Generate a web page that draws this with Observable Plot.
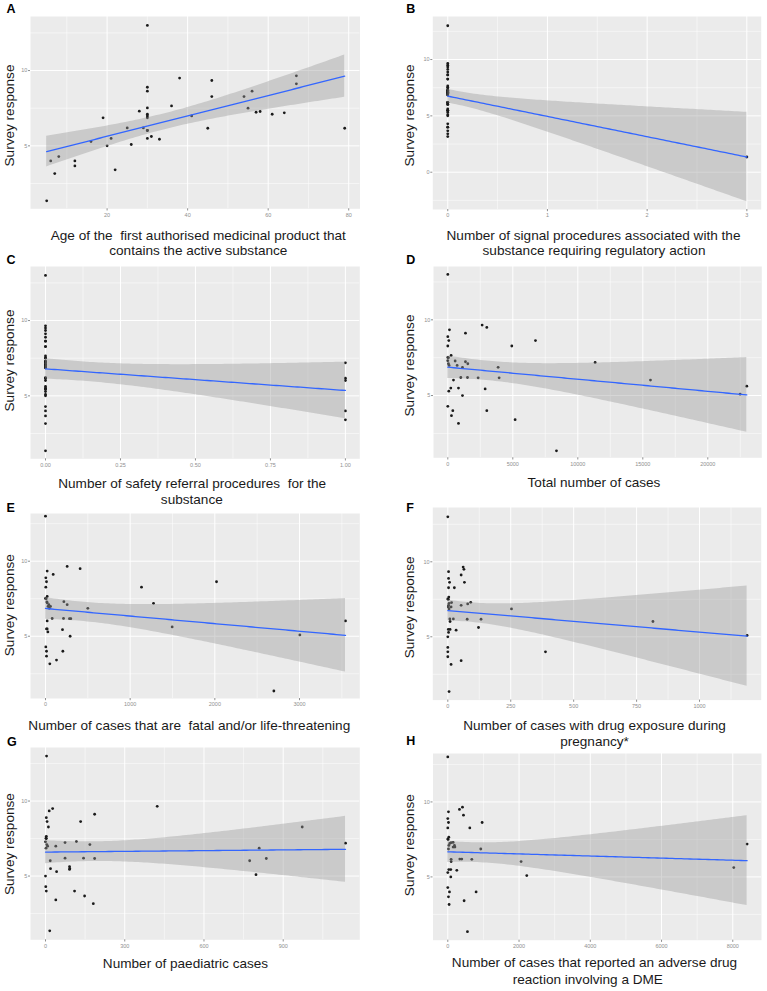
<!DOCTYPE html>
<html>
<head>
<meta charset="utf-8">
<script src="https://cdn.jsdelivr.net/npm/d3@7"></script>
<script src="https://cdn.jsdelivr.net/npm/@observablehq/plot@0.6"></script>
<style>
  html, body { margin: 0; padding: 0; background: #fff; }
  #fig { position: relative; width: 767px; height: 991px; overflow: hidden; background: #fff; }
  #fig svg { position: absolute; overflow: visible; }
</style>
</head>
<body>
<div id="fig"></div>
<script>
// Survey response per substance (same order in every predictor array below)
const survey = [13.0, 9.65, 9.5, 9.34, 9.12, 8.89, 8.63, 8.63, 8.27, 8.27, 7.65, 7.52, 7.50, 7.30, 7.28,
  7.23, 7.19, 7.10, 7.10, 6.99, 6.99, 6.86, 6.86, 6.19, 6.19, 6.17, 6.17, 6.02, 6.02, 5.62, 5.49, 5.49,
  5.44, 5.29, 5.09, 5.0, 4.29, 4.0, 4.0, 3.67, 3.41, 3.16, 1.35];

// Predictors
const ageFirstAuthorised = [30, 67, 38, 46, 67, 30, 30, 56, 46, 54, 36, 30, 55, 28, 58, 57, 64, 30, 61, 30,
  41, 30, 19, 25, 29, 45, 79, 30, 30, 31, 30, 21, 33, 16, 26, 20, 8, 6, 12, 12, 22, 7, 5];
const signalProcedures = [0, 0, 0, 0, 0, 0, 0, 0, 0, 0, 0, 0, 0, 0, 0, 0, 0, 0, 0, 0, 0, 0, 0, 0, 0, 0,
  0, 0, 0, 0, 0, 0, 0, 0, 0, 0, 0, 0, 0, 0, 0, 0, 3];
const safetyReferrals = [0, 0, 0, 0, 0, 0, 0, 0, 0, 0, 0, 0, 0, 0, 0, 0, 1, 0, 0, 0, 0, 0, 0, 0, 0, 0,
  1, 0, 1, 0, 0, 0, 0, 0, 0, 0, 0, 0, 1, 0, 1, 0, 0];
const totalCases = [0, 2641, 3000, 128, 1359, 0, 77, 6744, 0, 4923, 256, 0, 50, 0, 564, 1359, 11333, 1538,
  50, 718, 100, 1128, 3872, 1000, 1513, 2333, 3949, 436, 15590, 23000, 231, 821, 2872, 77, 22487, 1128, 0,
  385, 3000, 282, 5179, 821, 8359];
const fatalCases = [0, 256, 409, 20, 91, 4, 12, 2020, 4, 1134, 20, 0, 8, 217, 16, 20, 1276, 256, 40, 59,
  30, 500, 45, 79, 213, 283, 299, 20, 3543, 1496, 12, 20, 201, 28, 3004, 291, 4, 12, 205, 12, 130, 51, 2697];
const pregnancyCases = [0, 61, 64, 3, 53, 3, 7, 66, 3, 26, 4, 0, 2, 91, 15, 5, 79, 53, 3, 13, 2, 253, 5, 8,
  22, 77, 132, 9, 815, 122, 2, 9, 33, 3, 1189, 0, 0, 0, 388, 0, 53, 13, 5];
const paediatricCases = [4, 423, 27, 14, 186, 3, 6, 133, 11, 972, 3, 2, 3, 117, 0, 74, 1136, 168, 5, 39, 8,
  809, 2, 74, 144, 186, 836, 18, 773, 91, 19, 92, 91, 42, 797, 0, 1, 3, 110, 148, 39, 181, 16];
const dmeCases = [0, 412, 327, 19, 440, 0, 19, 964, 0, 618, 28, 0, 10, 150, 94, 56, 8402, 187, 30, 150, 200,
  926, 20, 337, 393, 674, 94, 94, 2058, 8028, 28, 84, 253, 0, 2217, 84, 0, 47, 795, 19, 458, 37, 552];

// Tick values
const yTicksPositive = [5, 10];
const yTicksWithZero = [0, 5, 10];
const xTicksA = [20, 40, 60, 80];
const xTicksB = [0, 1, 2, 3];
const xTicksC = [0, 0.25, 0.5, 0.75, 1];
const xTicksD = [0, 5000, 10000, 15000, 20000];
const xTicksE = [0, 1000, 2000, 3000];
const xTicksF = [0, 250, 500, 750, 1000];
const xTicksG = [0, 300, 600, 900];
const xTicksH = [0, 2000, 4000, 6000, 8000];

const FONT = "'Liberation Sans', Arial, Helvetica, sans-serif";

// Panel layout: frame = [left, right, top, bottom] in page pixels
const panels = [
  {letter: "A", col: 0, x: ageFirstAuthorised, frame: [30, 359.5, 16, 208.3], xDomain: [0.98, 82.8], yDomain: [0.82, 13.59],
   xTicks: xTicksA, yTicks: yTicksPositive, fmt: d3.format("d"),
   title: ["Age of the  first authorised medicinal product that", "contains the active substance"],
   titleX: [197.8, 197.8], titleY: [239.3, 255], letterAt: [6, 12.7], yTitleAt: [13.5, 115]},
  {letter: "B", col: 1, x: signalProcedures, frame: [432.3, 760.7, 16, 209], xDomain: [-0.15, 3.144], yDomain: [-3.31, 13.82],
   xTicks: xTicksB, yTicks: yTicksWithZero, fmt: d3.format("d"),
   title: ["Number of signal procedures associated with the", "substance requiring regulatory action"],
   titleX: [593, 593.5], titleY: [239, 254], letterAt: [405.7, 12.7], yTitleAt: [413.5, 115]},
  {letter: "C", col: 0, x: safetyReferrals, frame: [30, 359.3, 266, 458.3], xDomain: [-0.05, 1.048], yDomain: [0.82, 13.59],
   xTicks: xTicksC, yTicks: yTicksPositive, fmt: d3.format(".2f"),
   title: ["Number of safety referral procedures  for the", "substance"],
   titleX: [191.7, 191.3], titleY: [487.3, 504], letterAt: [6, 264], yTitleAt: [13.5, 360]},
  {letter: "D", col: 1, x: totalCases, frame: [433, 761.3, 266, 457.3], xDomain: [-1100, 24154], yDomain: [0.89, 13.52],
   xTicks: xTicksD, yTicks: yTicksPositive, fmt: d3.format("d"),
   title: ["Total number of cases"],
   titleX: [593.5], titleY: [486.7], letterAt: [405.7, 264], yTitleAt: [413.5, 365]},
  {letter: "E", col: 0, x: fatalCases, frame: [30, 359.3, 513.3, 698.3], xDomain: [-177, 3712], yDomain: [0.85, 13.18],
   xTicks: xTicksE, yTicks: yTicksPositive, fmt: d3.format("d"),
   title: ["Number of cases that are  fatal and/or life-threatening"],
   titleX: [188.8], titleY: [729.3], letterAt: [6, 511.7], yTitleAt: [13.5, 605]},
  {letter: "F", col: 1, x: pregnancyCases, frame: [432.3, 760.7, 506.7, 699.3], xDomain: [-59.6, 1245], yDomain: [0.78, 13.62],
   xTicks: xTicksF, yTicks: yTicksPositive, fmt: d3.format("d"),
   title: ["Number of cases with drug exposure during", "pregnancy*"],
   titleX: [594, 594], titleY: [729.3, 745], letterAt: [405.7, 511.3], yTitleAt: [413.5, 606.5]},
  {letter: "G", col: 0, x: paediatricCases, frame: [30, 359.3, 746.7, 939], xDomain: [-56.8, 1190], yDomain: [0.75, 13.57],
   xTicks: xTicksG, yTicks: yTicksPositive, fmt: d3.format("d"),
   title: ["Number of paediatric cases"],
   titleX: [185], titleY: [967.7], letterAt: [6.5, 745], yTitleAt: [13.5, 843.3]},
  {letter: "H", col: 1, x: dmeCases, frame: [432.5, 761, 753.3, 940], xDomain: [-415, 8806], yDomain: [0.78, 13.23],
   xTicks: xTicksH, yTicks: yTicksPositive, fmt: d3.format("d"),
   title: ["Number of cases that reported an adverse drug", "reaction involving a DME"],
   titleX: [594, 587.3], titleY: [967.3, 984], letterAt: [405.7, 745], yTitleAt: [413.5, 845]}
];

// Two-sided 95% Student t critical value (Cornish-Fisher expansion)
function tCrit(df) {
  const z = 1.959964;
  return z + (z ** 3 + z) / (4 * df) + (5 * z ** 5 + 16 * z ** 3 + 3 * z) / (96 * df * df);
}

// Ordinary least squares fit with a 95% confidence band for the mean
function fitBand(xs, ys, steps = 100) {
  const n = xs.length;
  const mx = d3.mean(xs), my = d3.mean(ys);
  let sxx = 0, sxy = 0;
  for (let i = 0; i < n; i++) {
    sxx += (xs[i] - mx) ** 2;
    sxy += (xs[i] - mx) * (ys[i] - my);
  }
  const b = sxy / sxx, a = my - b * mx;
  let rss = 0;
  for (let i = 0; i < n; i++) rss += (ys[i] - a - b * xs[i]) ** 2;
  const s = Math.sqrt(rss / (n - 2));
  const t = tCrit(n - 2);
  const [x0, x1] = d3.extent(xs);
  return d3.range(steps + 1).map(i => {
    const x = x0 + (x1 - x0) * i / steps;
    const fit = a + b * x;
    const se = s * Math.sqrt(1 / n + (x - mx) ** 2 / sxx);
    return {x, fit, lo: fit - t * se, hi: fit + t * se};
  });
}

// Minor breaks halfway between major ones, kept inside the domain
function minorBreaks(ticks, domain) {
  const step = ticks[1] - ticks[0];
  const out = [];
  for (let v = ticks[0] - step / 2; v <= ticks[ticks.length - 1] + step; v += step) {
    if (v > domain[0] && v < domain[1]) out.push(v);
  }
  return out;
}

const fig = document.getElementById("fig");

for (const p of panels) {
  const [fx0, fx1, fy0, fy1] = p.frame;
  const left = p.col === 0 ? 0 : 384;
  const svgW = p.col === 0 ? 384 : 383;
  const mt = 20, mb = 40;
  const top = fy0 - mt;
  const height = (fy1 - fy0) + mt + mb;
  const points = survey.map((y, i) => ({x: p.x[i], y}));
  const band = fitBand(p.x, survey);
  const yMajor = p.yTicks.filter(v => v > p.yDomain[0] && v < p.yDomain[1]);
  const xMinor = minorBreaks(p.xTicks, p.xDomain);
  const yMinor = minorBreaks(p.yTicks.length > 1 ? p.yTicks : [0, 5], p.yDomain);
  const at = (px, py) => ({frameAnchor: "top-left", dx: px - fx0, dy: py - fy0});
  const textMark = (str, px, py, o = {}) => Plot.text([str], {
    ...at(px, py), text: d => d, fontSize: 13.6, fill: "#1a1a1a", textAnchor: "middle",
    lineAnchor: "bottom", fontFamily: FONT, ...o
  });

  const titleMarks = p.title.map((line, i) => textMark(line, p.titleX[i], p.titleY[i]));

  const chart = Plot.plot({
    width: svgW,
    height,
    marginLeft: fx0 - left,
    marginRight: left + svgW - fx1,
    marginTop: mt,
    marginBottom: mb,
    x: {domain: p.xDomain, axis: null, label: null},
    y: {domain: p.yDomain, axis: null, label: null},
    style: {background: "none", overflow: "visible", color: "#8f8f8f", fontFamily: FONT},
    marks: [
      Plot.frame({fill: "#ebebeb", stroke: "none"}),
      Plot.gridX(xMinor, {stroke: "#ffffff", strokeOpacity: 1, strokeWidth: 0.5}),
      Plot.gridY(yMinor, {stroke: "#ffffff", strokeOpacity: 1, strokeWidth: 0.5}),
      Plot.gridX(p.xTicks, {stroke: "#ffffff", strokeOpacity: 1, strokeWidth: 1}),
      Plot.gridY(yMajor, {stroke: "#ffffff", strokeOpacity: 1, strokeWidth: 1}),
      Plot.dot(points, {x: "x", y: "y", r: 1.4, fill: "#1a1a1a", stroke: "none"}),
      Plot.areaY(band, {x: "x", y1: "lo", y2: "hi", fill: "#999999", fillOpacity: 0.4, clip: true}),
      Plot.line(band, {x: "x", y: "fit", stroke: "#3366ff", strokeWidth: 1.3, clip: true}),
      Plot.axisX(p.xTicks, {tickSize: 2.2, tickPadding: 1.6, fontSize: 5.5, tickFormat: p.fmt, label: null}),
      Plot.axisY(yMajor, {tickSize: 2, tickPadding: 1.2, fontSize: 5.5, tickFormat: d3.format("d"), label: null}),
      ...titleMarks,
      textMark("Survey response", p.yTitleAt[0], p.yTitleAt[1], {rotate: -90}),
      textMark(p.letter, p.letterAt[0], p.letterAt[1], {textAnchor: "start", fontWeight: "bold", fontSize: 12.5, fill: "#000"})
    ]
  });
  chart.style.left = left + "px";
  chart.style.top = top + "px";
  fig.append(chart);
}
</script>
</body>
</html>
